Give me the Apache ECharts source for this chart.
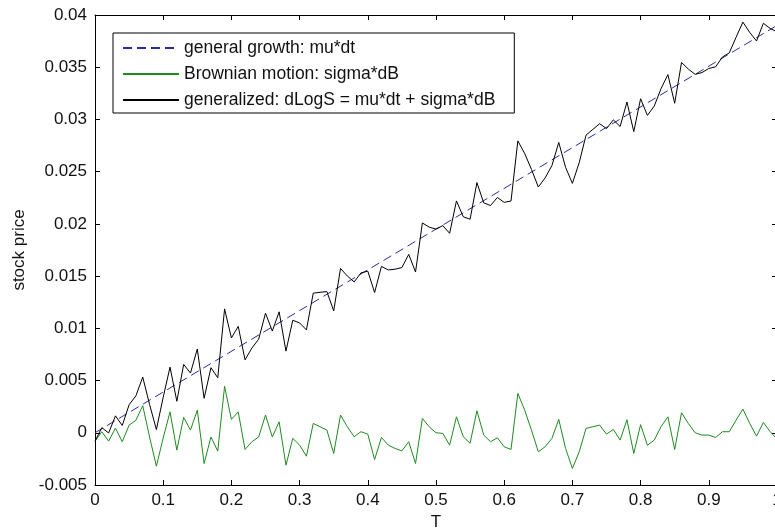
<!DOCTYPE html>
<html>
<head>
<meta charset="utf-8">
<script src="https://cdn.jsdelivr.net/npm/echarts@6/dist/echarts.min.js"></script>
<style>
html,body{margin:0;padding:0;background:#fff;}
#chart{width:775px;height:531px;}
</style>
</head>
<body>
<div id="chart"></div>
<script>
// ---- data ----
var seriesNames = ['general growth: mu*dt', 'Brownian motion: sigma*dB', 'generalized: dLogS = mu*dt + sigma*dB'];
var xTicks = [0, 0.1, 0.2, 0.3, 0.4, 0.5, 0.6, 0.7, 0.8, 0.9, 1];
var yTicks = [-0.005, 0, 0.005, 0.01, 0.015, 0.02, 0.025, 0.03, 0.035, 0.04];
var T = [0,0.01,0.02,0.03,0.04,0.05,0.06,0.07,0.08,0.09,
  0.1,0.11,0.12,0.13,0.14,0.15,0.16,0.17,0.18,0.19,
  0.2,0.21,0.22,0.23,0.24,0.25,0.26,0.27,0.28,0.29,
  0.3,0.31,0.32,0.33,0.34,0.35,0.36,0.37,0.38,0.39,
  0.4,0.41,0.42,0.43,0.44,0.45,0.46,0.47,0.48,0.49,
  0.5,0.51,0.52,0.53,0.54,0.55,0.56,0.57,0.58,0.59,
  0.6,0.61,0.62,0.63,0.64,0.65,0.66,0.67,0.68,0.69,
  0.7,0.71,0.72,0.73,0.74,0.75,0.76,0.77,0.78,0.79,
  0.8,0.81,0.82,0.83,0.84,0.85,0.86,0.87,0.88,0.89,
  0.9,0.91,0.92,0.93,0.94,0.95,0.96,0.97,0.98,0.99,1];
var growthT = [0, 1];
var growthV = [0, 0.039];
var brownian = [-0.0008,0.0001,-0.0008,0.00045,-0.00086,0.00073,0.0012,0.0026,-0.0004,-0.0032,
  -0.0005,0.002,-0.00166,0.00147,0.00026,0.00217,-0.00294,-0.0004,-0.00175,0.00445,
  0.00128,0.002,-0.0016,-0.00086,-0.0004,0.0017,-0.0004,0.00105,-0.0031,-0.00054,
  -0.00118,-0.00224,0.00089,0.00058,0.00026,-0.00198,0.00169,0.00058,-0.00038,0.0001,
  -0.00013,-0.00256,-0.00045,-0.00118,-0.0015,-0.00173,-0.00086,-0.00294,0.00137,0.00058,
  0,-0.00006,-0.00118,0.00153,-0.00038,-0.001,0.00211,-0.00022,-0.00086,-0.00048,
  -0.00134,-0.0016,0.00377,0.00217,0.00026,-0.00182,-0.00134,-0.00054,0.00128,-0.0015,
  -0.00342,-0.00182,0.00042,0.00058,0.00073,-0.00013,0.00032,-0.0007,0.00125,-0.00198,
  0.00078,-0.0012,-0.0007,0.00058,0.00153,-0.0016,0.00192,0.00089,0,-0.00022,
  -0.00022,-0.00045,0.0001,0.0001,0.00121,0.00227,0.00089,-0.00032,0.00099,0.0001,
  -0.0006];
var generalized = [-0.0008,0.00049,-0.00002,0.00162,0.0007,0.00268,0.00354,0.00533,0.00272,0.00031,
  0.0034,0.00629,0.00302,0.00654,0.00572,0.00802,0.0033,0.00623,0.00527,0.01186,
  0.00908,0.01019,0.00698,0.00811,0.00896,0.01145,0.00974,0.01158,0.00782,0.01077,
  0.01052,0.00985,0.01337,0.01345,0.01352,0.01167,0.01573,0.01501,0.01444,0.01531,
  0.01547,0.01343,0.01593,0.01559,0.01566,0.01582,0.01708,0.01539,0.02009,0.01969,
  0.0195,0.01983,0.0191,0.0222,0.02068,0.02045,0.02395,0.02201,0.02176,0.02253,
  0.02206,0.02219,0.02795,0.02674,0.02522,0.02353,0.0244,0.02559,0.0278,0.02541,
  0.02388,0.02587,0.0285,0.02905,0.02959,0.02912,0.02996,0.02933,0.03167,0.02883,
  0.03198,0.03039,0.03128,0.03295,0.03429,0.03155,0.03546,0.03482,0.03432,0.03449,
  0.03488,0.03504,0.03598,0.03637,0.03787,0.03932,0.03833,0.03751,0.03921,0.03871,
  0.0384];

function pairs(xs, ys) { return xs.map(function (x, i) { return [x, ys[i]]; }); }

var FONT = '"Liberation Sans", Arial, Helvetica, sans-serif';
var xMin = xTicks[0], xMax = xTicks[xTicks.length - 1], xInt = xTicks[1] - xTicks[0];
var yMin = yTicks[0], yMax = yTicks[yTicks.length - 1], yInt = yTicks[1] - yTicks[0];

var axisLine = { show: true, onZero: false, lineStyle: { color: '#000', width: 1 } };
var tick = { show: true, inside: true, length: 5, lineStyle: { color: '#000', width: 1 } };
var labelStyle = { color: '#111', fontSize: 17, fontFamily: FONT };

var chart = echarts.init(document.getElementById('chart'), null, { renderer: 'canvas' });
chart.setOption({
  animation: false,
  backgroundColor: '#fff',
  grid: { left: 95, right: -2, top: 15, bottom: 46, containLabel: false, outerBoundsMode: 'none' },
  legend: {
    orient: 'vertical',
    left: 113, top: 33,
    data: seriesNames,
    itemWidth: 56, itemHeight: 10, itemGap: 6,
    padding: [5, 19, 3, 9],
    borderColor: '#000', borderWidth: 1, borderRadius: 0,
    backgroundColor: '#fff',
    itemStyle: { opacity: 0 },
    textStyle: { color: '#111', fontSize: 17.5, fontFamily: FONT, lineHeight: 20 },
    selectedMode: false
  },
  xAxis: [{
    type: 'value', min: xMin, max: xMax, interval: xInt,
    name: 'T', nameLocation: 'middle', nameGap: 29,
    nameTextStyle: { color: '#111', fontSize: 17, fontFamily: FONT },
    axisLine: axisLine, axisTick: tick,
    axisLabel: Object.assign({ margin: 7, formatter: function (v) { return String(parseFloat(v.toFixed(1))); } }, labelStyle),
    splitLine: { show: false }
  }, {
    type: 'value', position: 'top', min: xMin, max: xMax, interval: xInt,
    axisLine: axisLine, axisTick: tick, axisLabel: { show: false }, splitLine: { show: false }
  }],
  yAxis: [{
    type: 'value', min: yMin, max: yMax, interval: yInt,
    name: 'stock price', nameLocation: 'middle', nameGap: 64, nameRotate: 90,
    nameTextStyle: { color: '#111', fontSize: 17, fontFamily: FONT },
    axisLine: axisLine, axisTick: tick,
    axisLabel: Object.assign({ margin: 8, formatter: function (v) { return String(parseFloat(v.toFixed(3))); } }, labelStyle),
    splitLine: { show: false }
  }, {
    type: 'value', position: 'right', min: yMin, max: yMax, interval: yInt,
    axisLine: axisLine, axisTick: tick, axisLabel: { show: false }, splitLine: { show: false }
  }],
  series: [{
    name: seriesNames[0], type: 'line', symbol: 'none',
    data: pairs(growthT, growthV),
    lineStyle: { color: '#2b2ba0', width: 1, type: [9, 5] },
    itemStyle: { color: '#2b2ba0' }
  }, {
    name: seriesNames[1], type: 'line', symbol: 'none',
    data: pairs(T, brownian),
    lineStyle: { color: '#1f8a1f', width: 1 },
    itemStyle: { color: '#1f8a1f' }
  }, {
    name: seriesNames[2], type: 'line', symbol: 'none',
    data: pairs(T, generalized),
    lineStyle: { color: '#000', width: 1 },
    itemStyle: { color: '#000' }
  }]
});
</script>
</body>
</html>
